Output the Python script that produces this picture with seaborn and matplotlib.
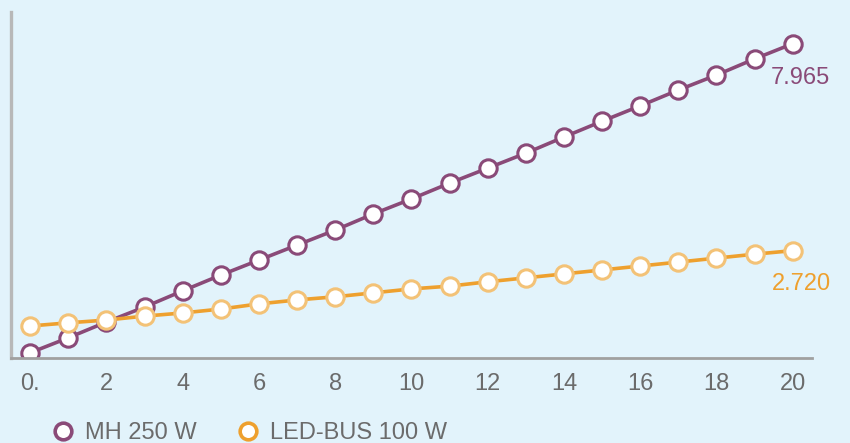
import numpy as np
import pandas as pd
import matplotlib
matplotlib.use("Agg")
import matplotlib.pyplot as plt
import seaborn as sns

years = list(range(21))
mh_250 = [0.13, 0.51, 0.91, 1.29, 1.70, 2.10, 2.48, 2.86, 3.24, 3.65, 4.03,
          4.43, 4.81, 5.19, 5.60, 6.00, 6.39, 6.79, 7.17, 7.58, 7.965]
led_bus = [0.81, 0.89, 0.96, 1.06, 1.14, 1.24, 1.37, 1.47, 1.55, 1.65, 1.75,
           1.82, 1.93, 2.03, 2.13, 2.23, 2.33, 2.43, 2.53, 2.63, 2.72]
series_names = ["MH 250 W", "LED-BUS 100 W"]
end_labels = ["7.965", "2.720"]
tick_labels = ["0.", "2", "4", "6", "8", "10", "12", "14", "16", "18", "20"]

line_colors = ["#8a4a78", "#eea02e"]
edge_colors = ["#8a4a78", "#f3c277"]
bg = "#e2f3fb"
grey = "#6b6b6b"

df = pd.DataFrame({"year": years * 2,
                   "value": mh_250 + led_bus,
                   "series": [series_names[0]] * 21 + [series_names[1]] * 21})

sns.set_style("white")
plt.rcParams["font.family"] = ["Liberation Sans", "DejaVu Sans"]
fig = plt.figure(figsize=(8.5, 4.43), dpi=100, facecolor=bg)
ax = fig.add_axes([0.013, 0.192, 0.942, 0.781])
ax.set_facecolor(bg)

sns.lineplot(data=df, x="year", y="value", hue="series",
             palette=line_colors, linewidth=2.6, legend=False, ax=ax)
for name, col, ec in zip(series_names, line_colors, edge_colors):
    sub = df[df.series == name]
    ax.plot(sub.year, sub.value, ls="none", marker="o", markersize=12.5,
            markerfacecolor="white", markeredgecolor=ec, markeredgewidth=2.2)

# end value labels, placed below the last point
ax.annotate(end_labels[0], (20, mh_250[-1]), xytext=(5.5, -25), textcoords="offset points",
            color=line_colors[0], fontsize=17, ha="center", va="center")
ax.annotate(end_labels[1], (20, led_bus[-1]), xytext=(6, -24), textcoords="offset points",
            color=line_colors[1], fontsize=17, ha="center", va="center")

ax.set_xlim(-0.5, 20.5)
ax.set_ylim(0, 8.77)
ax.set_yticks([])
ax.set_xlabel("")
ax.set_ylabel("")

ax.set_xticks(np.arange(-0.5, 20.6, 1.0))
ax.set_xticklabels([])
ax.tick_params(axis="x", direction="inout", length=8, width=1.5, color="#a0a0a0")
ax.set_xticks(range(0, 21, 2), minor=True)
ax.set_xticklabels(tick_labels, minor=True, fontsize=17, color=grey)
ax.tick_params(axis="x", which="minor", length=0, pad=11)

for s in ["top", "right"]:
    ax.spines[s].set_visible(False)
ax.spines["left"].set_color("#b8b8b8")
ax.spines["left"].set_linewidth(2.4)
ax.spines["bottom"].set_color("#a0a0a0")
ax.spines["bottom"].set_linewidth(2)

# legend at the bottom
handles = [plt.Line2D([], [], ls="none", marker="o", markersize=12,
                      markerfacecolor="white", markeredgecolor=c, markeredgewidth=2.6)
           for c in line_colors]
fig.legend(handles, series_names, loc="lower left", bbox_to_anchor=(0.033, -0.05),
           ncol=2, frameon=False, fontsize=17, labelcolor=grey,
           handletextpad=0.3, columnspacing=1.6, handlelength=1.2)

fig.savefig("out.png", dpi=100, facecolor=bg)
